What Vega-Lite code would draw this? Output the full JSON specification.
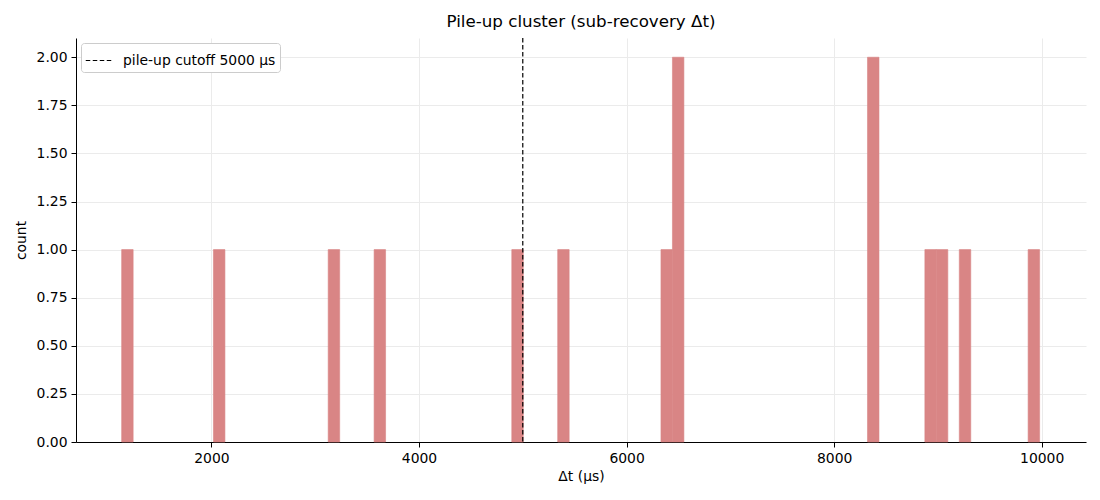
{
  "$schema": "https://vega.github.io/schema/vega-lite/v6.json",
  "autosize": {"type": "none"},
  "width": 1010,
  "height": 404,
  "padding": {"left": 76, "top": 38, "right": 14, "bottom": 58},
  "background": "white",
  "title": {
    "text": "Pile-up cluster (sub-recovery Δt)",
    "fontSize": 16.7,
    "fontWeight": "normal",
    "font": "DejaVu Sans",
    "color": "black",
    "offset": 7
  },
  "config": {
    "font": "DejaVu Sans",
    "view": {"stroke": null},
    "axis": {
      "labelFont": "DejaVu Sans",
      "labelFontSize": 13.9,
      "labelColor": "black",
      "titleFont": "DejaVu Sans",
      "titleFontSize": 13.9,
      "titleFontWeight": "normal",
      "titleColor": "black",
      "domainColor": "black",
      "domainWidth": 1,
      "tickColor": "black",
      "tickSize": 5,
      "labelPadding": 4,
      "gridColor": "#ebebeb",
      "gridWidth": 1
    },
    "legend": {
      "labelFont": "DejaVu Sans",
      "labelFontSize": 13.9,
      "labelColor": "black"
    }
  },
  "layer": [
    {
      "data": {
        "values": [
          {"bin_start": 1135.0, "bin_end": 1245.6, "count": 1},
          {"bin_start": 2019.5, "bin_end": 2130.1, "count": 1},
          {"bin_start": 3125.1, "bin_end": 3235.7, "count": 1},
          {"bin_start": 3567.4, "bin_end": 3677.9, "count": 1},
          {"bin_start": 4894.1, "bin_end": 5004.6, "count": 1},
          {"bin_start": 5336.4, "bin_end": 5446.9, "count": 1},
          {"bin_start": 6331.4, "bin_end": 6442.0, "count": 1},
          {"bin_start": 6442.0, "bin_end": 6552.5, "count": 2},
          {"bin_start": 8321.6, "bin_end": 8432.2, "count": 2},
          {"bin_start": 8874.4, "bin_end": 8985.0, "count": 1},
          {"bin_start": 8985.0, "bin_end": 9095.5, "count": 1},
          {"bin_start": 9206.1, "bin_end": 9316.7, "count": 1},
          {"bin_start": 9869.4, "bin_end": 9980.0, "count": 1}
        ]
      },
      "mark": {"type": "rect", "color": "#d98585", "stroke": "#d98585", "strokeWidth": 0.6},
      "encoding": {
        "x": {
          "field": "bin_start",
          "type": "quantitative",
          "title": "Δt (μs)",
          "scale": {"domain": [695, 10427], "nice": false, "zero": false},
          "axis": {"values": [2000, 4000, 6000, 8000, 10000], "format": "d", "grid": true, "titlePadding": 5}
        },
        "x2": {"field": "bin_end"},
        "y": {
          "field": "count",
          "type": "quantitative",
          "title": "count",
          "scale": {"domain": [0, 2.1], "nice": false},
          "axis": {"values": [0, 0.25, 0.5, 0.75, 1, 1.25, 1.5, 1.75, 2], "format": ".2f", "grid": true, "titlePadding": 8}
        },
        "y2": {"datum": 0}
      }
    },
    {
      "data": {"values": [{"cutoff": 5000, "label": "pile-up cutoff 5000 μs"}]},
      "mark": {"type": "rule", "strokeWidth": 1.2},
      "encoding": {
        "x": {"field": "cutoff", "type": "quantitative"},
        "stroke": {
          "field": "label",
          "type": "nominal",
          "scale": {"range": ["black"]},
          "legend": {
            "title": null,
            "orient": "top-left",
            "offset": 5,
            "padding": 4,
            "strokeColor": "#cccccc",
            "fillColor": "white",
            "cornerRadius": 3,
            "symbolType": "stroke",
            "symbolSize": 650,
            "symbolStrokeWidth": 1.2,
            "labelOffset": 11
          }
        },
        "strokeDash": {
          "field": "label",
          "type": "nominal",
          "scale": {"range": [[4.5, 2.5]]},
          "legend": {"title": null}
        }
      }
    }
  ]
}
